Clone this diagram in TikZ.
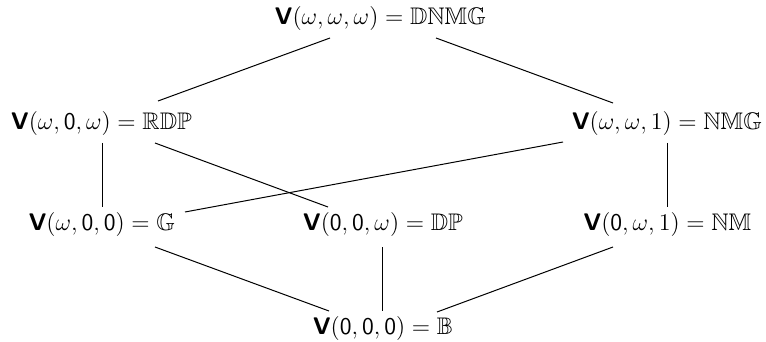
\documentclass[tikz,border=0pt]{standalone}
\usepackage{amsmath,amssymb}
\newcommand{\Vop}{\textsf{\textbf{V}}}
\newcommand{\zr}{\mathsf{0}}
\tikzset{
  variety/.style={anchor=base, inner sep=0pt, font=\fontsize{12}{14}\selectfont},
  cover/.style={draw=black, line width=0.5pt}
}
\begin{document}
\begin{tikzpicture}[x=0.5pt, y=-0.5pt]
  \useasboundingbox (0,0) rectangle (766,342);

  % lattice of varieties, top to bottom
  \node[variety] (dnmg) at (380.5,25)  {$\Vop(\omega,\omega,\omega)=\mathbb{DNMG}$};
  \node[variety] (rdp)  at (101.5,130) {$\Vop(\omega,\zr,\omega)=\mathbb{RDP}$};
  \node[variety] (nmg)  at (667,130)   {$\Vop(\omega,\omega,1)=\mathbb{NMG}$};
  \node[variety] (g)    at (102,230)   {$\Vop(\omega,\zr,\zr)=\mathbb{G}$};
  \node[variety] (dp)   at (383,230)   {$\Vop(\zr,\zr,\omega)=\mathbb{DP}$};
  \node[variety] (nm)   at (667.5,230) {$\Vop(\zr,\omega,1)=\mathbb{NM}$};
  \node[variety] (b)    at (383,334)   {$\Vop(\zr,\zr,\zr)=\mathbb{B}$};

  % covering relations
  \draw[cover] ([shift={(-50.5,13)}]dnmg.base) -- ([shift={(56.5,-29)}]rdp.base);
  \draw[cover] ([shift={(55.5,13)}]dnmg.base)  -- ([shift={(-54,-27)}]nmg.base);
  \draw[cover] ([shift={(0.5,13)}]rdp.base)    -- ([shift={(0,-23)}]g.base);
  \draw[cover] ([shift={(53.5,13)}]rdp.base)   -- ([shift={(-55,-23)}]dp.base);
  \draw[cover] ([shift={(-104,12)}]nmg.base)   -- ([shift={(83,-18)}]g.base);
  \draw[cover] ([shift={(0,13)}]nmg.base)      -- ([shift={(-0.5,-23)}]nm.base);
  \draw[cover] ([shift={(53,17)}]g.base)       -- ([shift={(-54,-23)}]b.base);
  \draw[cover] ([shift={(-1,17)}]dp.base)      -- ([shift={(-1,-23)}]b.base);
  \draw[cover] ([shift={(-54.5,17)}]nm.base)   -- ([shift={(54,-22)}]b.base);
\end{tikzpicture}
\end{document}
